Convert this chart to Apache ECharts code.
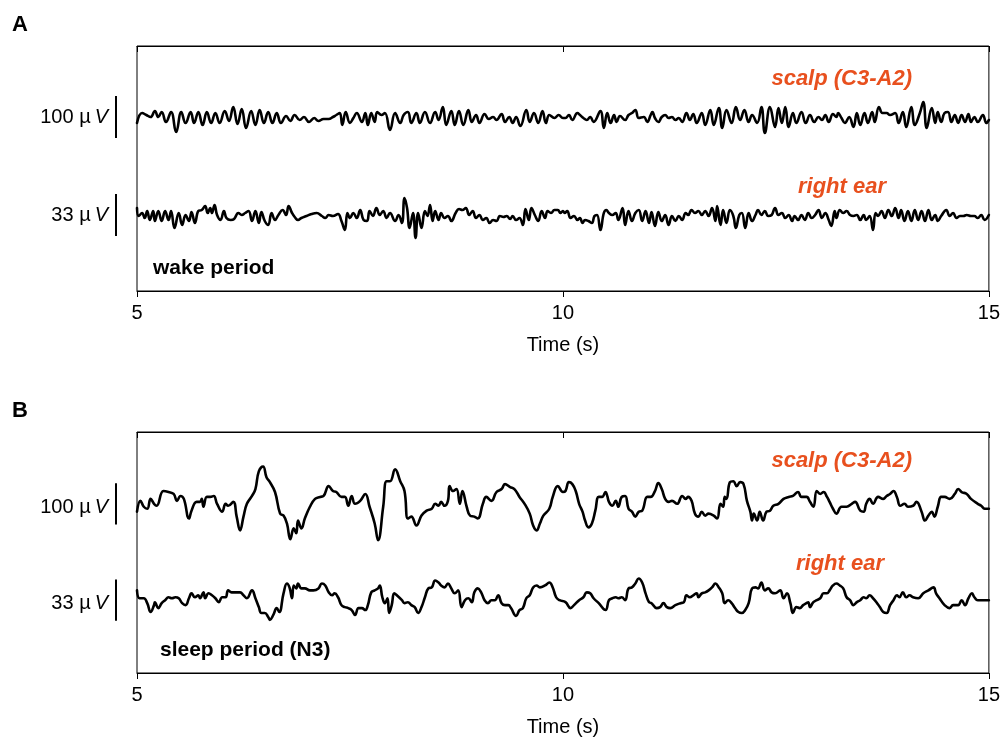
<!DOCTYPE html>
<html><head><meta charset="utf-8">
<script src="https://cdn.jsdelivr.net/npm/echarts@6/dist/echarts.min.js"></script>
<style>html,body{margin:0;padding:0;background:#fff}#c{width:1003px;height:738px}</style>
</head><body><div id="c"></div>
<script>
// ---------- DATA (time in s, deflection in display units; 42 units = scale bar) ----------
const timeTicks = [5, 10, 15];
const panelLetters = ['A', 'B'];
const channelNames = ['scalp (C3-A2)', 'right ear'];
const periodNames = ['wake period', 'sleep period (N3)'];
const scaleBarLabels = ['100 \u00b5', '33 \u00b5'];
const scaleBarUnits = [-21, 21];

const wakeScalp = [
[5.00,-6],[5.06,4],[5.11,2],[5.16,0],[5.21,6],[5.25,0],[5.29,5],[5.34,-5],[5.40,5],[5.46,-15],
[5.52,5],[5.57,-6],[5.63,5],[5.67,-6],[5.72,5],[5.77,-8],[5.82,5],[5.87,-6],[5.92,4],[5.97,-6],
[6.03,6],[6.08,-4],[6.13,10],[6.18,-7],[6.23,8],[6.28,-11],[6.34,6],[6.39,-8],[6.44,7],[6.49,-6],
[6.54,5],[6.59,-6],[6.64,4],[6.69,-6],[6.75,1],[6.80,-4],[6.85,2],[6.91,-3],[6.96,0],[7.02,-5],
[7.08,-1],[7.13,-4],[7.19,-2],[7.25,-2],[7.30,0],[7.34,2],[7.38,4],[7.41,-8],[7.45,5],[7.50,-6],
[7.54,-1],[7.58,4],[7.64,-5],[7.68,4],[7.71,-8],[7.75,4],[7.79,-5],[7.82,5],[7.87,2],[7.91,4],
[7.97,-13],[8.03,4],[8.09,-6],[8.13,2],[8.18,5],[8.22,-6],[8.28,4],[8.32,-6],[8.38,5],[8.44,-6],
[8.50,5],[8.54,-3],[8.59,10],[8.63,-8],[8.69,6],[8.73,-8],[8.78,6],[8.83,-8],[8.89,7],[8.93,-5],
[8.98,2],[9.02,-6],[9.08,3],[9.13,-2],[9.18,0],[9.22,-3],[9.28,3],[9.32,-5],[9.37,0],[9.41,-6],
[9.45,0],[9.50,-9],[9.57,7],[9.61,-5],[9.66,4],[9.71,-6],[9.76,6],[9.80,-6],[9.84,2],[9.90,-1],
[9.95,2],[10.00,-1],
[10.03,-1],[10.07,2],[10.11,-3],[10.17,4],[10.20,2],[10.24,-1],[10.28,-3],[10.32,0],[10.36,-5],[10.44,6],
[10.48,-11],[10.52,4],[10.56,-6],[10.60,2],[10.63,-5],[10.67,1],[10.73,-3],[10.77,2],[10.81,4],[10.85,7],
[10.89,-1],[10.95,0],[10.99,-5],[11.03,2],[11.05,5],[11.08,-1],[11.12,-5],[11.16,0],[11.20,2],[11.24,-1],
[11.28,0],[11.32,-3],[11.36,-1],[11.40,-5],[11.45,4],[11.49,-3],[11.53,3],[11.57,-6],[11.63,4],[11.67,-8],
[11.73,7],[11.77,-8],[11.83,9],[11.87,-11],[11.92,7],[11.98,-6],[12.03,10],[12.08,-3],[12.13,7],[12.18,-5],
[12.22,2],[12.28,-6],[12.33,10],[12.37,-16],[12.43,10],[12.49,-10],
[12.53,9],[12.57,-6],[12.61,10],[12.65,-10],[12.70,4],[12.74,-6],[12.80,5],[12.85,-6],[12.90,2],[12.95,-5],
[13.00,0],[13.04,-3],[13.08,2],[13.12,-5],[13.17,3],[13.21,0],[13.23,4],[13.27,-1],[13.31,-6],[13.36,0],
[13.41,-10],[13.45,4],[13.49,-8],[13.54,4],[13.58,-6],[13.63,5],[13.66,-5],[13.71,10],[13.75,4],[13.80,4],
[13.84,2],[13.90,4],[13.94,-6],[13.99,5],[14.03,-10],[14.09,10],[14.13,-8],[14.19,4],[14.23,15],[14.27,-11],
[14.33,9],[14.37,-6],[14.40,5],[14.44,-5],[14.48,4],[14.52,5],[14.56,-5],[14.60,2],[14.64,-6],[14.68,2],
[14.72,-5],[14.76,3],[14.79,-5],[14.83,0],[14.87,-5],[14.93,2],[14.97,-6],[15.00,-3]
];

const wakeEar = [
[5.00,7],[5.02,-1],[5.06,2],[5.09,-3],[5.12,4],[5.15,-5],[5.19,4],[5.21,-6],[5.25,4],[5.29,-6],
[5.33,4],[5.37,-5],[5.40,4],[5.44,-13],[5.49,2],[5.53,-10],[5.57,0],[5.61,-6],[5.64,3],[5.68,-8],
[5.72,4],[5.76,5],[5.80,9],[5.83,2],[5.86,7],[5.88,2],[5.91,10],[5.94,0],[5.98,-5],[6.02,4],
[6.05,-3],[6.10,-5],[6.14,-4],[6.19,2],[6.23,0],[6.27,2],[6.31,4],[6.35,-6],[6.39,4],[6.43,-8],
[6.46,3],[6.50,-6],[6.54,-10],[6.58,2],[6.62,-5],[6.66,0],[6.71,5],[6.75,0],[6.78,9],[6.82,2],
[6.86,-3],[6.89,-5],[6.93,-3],[6.99,-1],[7.05,1],[7.11,2],[7.17,-1],[7.21,-3],[7.25,0],[7.30,-1],
[7.36,1],[7.40,-6],[7.44,-15],[7.47,2],[7.50,-3],
[7.54,2],[7.58,-3],[7.62,5],[7.66,-5],[7.70,-6],[7.73,4],[7.77,-1],[7.81,7],[7.85,0],[7.89,4],
[7.93,-3],[7.97,2],[8.03,-6],[8.07,0],[8.11,-8],[8.14,17],[8.17,7],[8.20,-13],[8.24,2],[8.27,-23],
[8.30,2],[8.34,-13],[8.38,4],[8.41,-1],[8.44,10],[8.47,-6],[8.50,4],[8.54,-5],[8.57,2],[8.61,-3],
[8.65,-1],[8.69,-6],[8.74,2],[8.78,6],[8.82,5],[8.86,7],[8.90,0],[8.94,4],[8.98,-3],[9.02,0],
[9.06,-5],[9.10,-3],[9.14,-8],[9.18,-5],[9.22,-6],[9.26,-1],[9.30,-2],[9.34,-1],[9.38,-4],[9.41,-1],
[9.45,-5],[9.49,-3],[9.53,-10],[9.56,6],[9.60,-5],[9.63,7],[9.67,0],[9.71,-6],[9.75,4],[9.79,-3],
[9.82,4],[9.86,2],[9.90,5],[9.94,5],[9.97,2],[10.00,4],
[10.02,2],[10.05,4],[10.09,-3],[10.13,-1],[10.17,-5],[10.20,-3],[10.23,-8],[10.26,-5],[10.30,-6],[10.34,-8],
[10.37,-1],[10.40,0],[10.44,-15],[10.48,2],[10.51,5],[10.54,2],[10.58,0],[10.62,2],[10.65,-5],[10.70,7],
[10.73,-10],[10.77,4],[10.81,-6],[10.85,2],[10.89,5],[10.93,-6],[10.97,4],[11.01,-8],[11.04,3],[11.08,-11],
[11.12,3],[11.16,-6],[11.20,0],[11.24,-10],[11.28,-1],[11.32,-6],[11.36,-1],[11.40,-5],[11.44,2],[11.47,0],
[11.51,5],[11.55,2],[11.59,4],[11.63,0],[11.67,4],[11.71,-1],[11.75,7],[11.79,-6],[11.81,9],[11.85,-10],
[11.88,5],[11.92,-8],[11.96,5],[12.00,-1],[12.03,-13],[12.07,0],[12.10,2],[12.14,-13],[12.18,2],[12.22,-6],
[12.26,0],[12.29,5],[12.33,0],[12.37,4],[12.41,-1],[12.45,0],[12.49,7],
[12.53,0],[12.57,2],[12.61,-3],[12.65,0],[12.69,-6],[12.72,-1],[12.76,-5],[12.80,0],[12.84,-5],[12.88,2],
[12.92,-3],[12.96,0],[13.00,5],[13.04,-3],[13.08,2],[13.12,-5],[13.15,-11],[13.19,4],[13.21,-3],[13.25,5],
[13.29,2],[13.33,4],[13.37,0],[13.41,-1],[13.45,0],[13.49,-5],[13.53,0],[13.56,-5],[13.60,-1],[13.64,-15],
[13.67,2],[13.70,-1],[13.74,4],[13.78,-3],[13.82,5],[13.86,-1],[13.90,7],[13.94,-3],[13.97,5],[14.01,-6],
[14.05,4],[14.09,-6],[14.13,5],[14.17,-5],[14.21,4],[14.25,-6],[14.29,5],[14.33,-5],[14.37,0],[14.40,-6],
[14.44,-1],[14.50,5],[14.54,-1],[14.58,2],[14.62,-3],[14.66,-1],[14.70,-1],[14.74,0],[14.79,-1],[14.83,-1],
[14.87,-3],[14.91,0],[14.95,-5],[15.00,0]
];

const sleepScalp = [
[5.00,-8],[5.04,3],[5.08,-3],[5.12,-5],[5.16,5],[5.20,0],[5.23,-2],[5.31,13],[5.37,12],[5.43,10],
[5.47,3],[5.51,8],[5.55,5],[5.61,-15],[5.64,-7],[5.70,2],[5.74,2],[5.76,5],[5.78,-3],[5.82,7],
[5.86,7],[5.90,8],[5.94,0],[6.00,-8],[6.04,0],[6.07,-2],[6.13,2],[6.17,-13],[6.21,-27],[6.25,-13],
[6.29,0],[6.35,8],[6.39,15],[6.43,33],[6.48,38],[6.52,27],[6.56,22],[6.62,12],[6.68,-10],[6.72,-12],
[6.76,-20],[6.80,-36],[6.84,-25],[6.87,-30],[6.89,-17],[6.93,-25],[6.97,-15],[7.03,-3],[7.09,5],[7.15,7],
[7.19,8],[7.25,18],[7.30,13],[7.34,12],[7.40,7],[7.44,7],[7.48,-2],[7.52,8],[7.56,0],[7.62,3],
[7.68,10],[7.73,-3],[7.79,-20],[7.83,-37],[7.89,-3],[7.93,23],[7.97,23],[8.03,35],[8.09,23],[8.14,13],
[8.18,-15],[8.22,-13],[8.28,-22],[8.34,-12],[8.40,-7],[8.46,-5],[8.50,0],[8.54,-2],[8.57,2],[8.61,-2],
[8.65,3],[8.67,18],[8.71,13],[8.75,15],[8.79,0],[8.82,13],[8.87,-3],[8.91,-12],[8.96,-13],[9.00,-15],
[9.06,0],[9.10,7],[9.16,3],[9.22,12],[9.28,15],[9.32,20],[9.38,17],[9.43,15],[9.49,7],[9.55,0],
[9.61,-10],[9.65,-22],[9.69,-27],[9.73,-20],[9.77,-12],[9.84,-5],[9.88,7],[9.94,18],[10.00,12],
[10.03,13],[10.07,22],[10.11,20],[10.15,13],[10.19,0],[10.23,-8],[10.26,-17],[10.30,-24],[10.34,-20],[10.38,-7],
[10.42,7],[10.46,7],[10.50,12],[10.52,8],[10.54,2],[10.58,-2],[10.62,3],[10.65,-3],[10.69,7],[10.73,8],
[10.77,-5],[10.81,-8],[10.85,-13],[10.89,-8],[10.93,-7],[10.99,7],[11.03,7],[11.08,13],[11.12,21],[11.16,15],
[11.20,5],[11.24,2],[11.28,3],[11.34,0],[11.40,8],[11.44,5],[11.47,7],[11.51,3],[11.55,-10],[11.59,-13],
[11.63,-8],[11.67,-12],[11.71,-10],[11.77,-12],[11.81,-15],[11.85,0],[11.88,-3],[11.90,7],[11.92,5],[11.96,22],
[12.00,23],[12.04,18],[12.08,22],[12.12,20],[12.16,3],[12.20,-8],[12.22,-17],[12.24,-10],[12.28,-17],[12.31,-8],
[12.35,-17],[12.39,-8],[12.43,-7],[12.47,-2],[12.53,0],[12.59,5],[12.65,7],[12.70,8],[12.76,12],[12.80,7],
[12.86,7],[12.90,2],[12.94,-3],[12.98,13],[13.02,10],[13.06,12],[13.10,7],[13.13,2],[13.17,-5],[13.21,-10],
[13.27,-3],[13.33,-3],[13.39,0],[13.43,2],[13.49,-7],[13.53,-8],[13.56,0],[13.60,5],[13.64,0],[13.70,7],
[13.76,5],[13.80,8],[13.84,10],[13.88,13],[13.92,7],[13.96,-2],[14.01,0],[14.05,-3],[14.11,-2],[14.15,2],
[14.21,-8],[14.25,-17],[14.29,-12],[14.33,-8],[14.36,-13],[14.40,-3],[14.44,7],[14.48,7],[14.54,5],[14.60,10],
[14.64,15],[14.68,12],[14.74,10],[14.79,5],[14.87,0],[14.91,-2],[14.95,-5],[15.00,-5]
];

const sleepEar = [
[5.00,10],[5.03,2],[5.08,2],[5.12,-3],[5.16,-12],[5.20,-5],[5.21,-2],[5.25,-8],[5.29,-3],[5.33,0],
[5.37,3],[5.41,2],[5.45,3],[5.49,2],[5.53,-3],[5.57,-5],[5.61,2],[5.64,7],[5.68,3],[5.72,5],
[5.74,2],[5.78,8],[5.80,2],[5.84,7],[5.88,5],[5.92,2],[5.96,-2],[6.00,3],[6.04,3],[6.07,10],
[6.11,8],[6.15,8],[6.21,8],[6.25,5],[6.29,2],[6.35,10],[6.39,2],[6.43,-7],[6.46,-13],[6.50,-13],
[6.54,-17],[6.56,-20],[6.60,-15],[6.64,-8],[6.67,-12],[6.72,7],[6.76,17],[6.79,13],[6.82,2],[6.84,15],
[6.87,12],[6.89,17],[6.93,12],[6.97,12],[7.03,10],[7.07,10],[7.13,12],[7.17,17],[7.21,15],[7.25,8],
[7.29,5],[7.32,7],[7.36,3],[7.40,-5],[7.44,-7],[7.48,-8],[7.52,-10],[7.56,-15],[7.60,-8],[7.64,-8],
[7.68,-10],[7.71,-5],[7.75,8],[7.79,10],[7.83,12],[7.85,15],[7.88,3],[7.91,-3],[7.94,2],[7.96,-13],
[7.99,-5],[8.02,7],[8.05,5],[8.11,0],[8.14,-3],[8.18,-2],[8.22,-5],[8.26,-7],[8.30,-13],[8.34,-7],
[8.38,3],[8.42,12],[8.46,13],[8.50,20],[8.54,18],[8.57,15],[8.61,13],[8.65,17],[8.69,12],[8.73,7],
[8.77,10],[8.81,-7],[8.85,0],[8.89,2],[8.93,-2],[8.96,8],[9.00,12],[9.04,8],[9.08,0],[9.12,-3],
[9.16,0],[9.20,0],[9.24,5],[9.28,-3],[9.32,-5],[9.36,-5],[9.39,-8],[9.45,-16],[9.49,-10],[9.53,-8],
[9.57,2],[9.61,5],[9.65,13],[9.69,15],[9.73,13],[9.79,15],[9.84,18],[9.88,13],[9.92,3],[9.96,0],
[10.03,-2],[10.09,-8],[10.13,-5],[10.19,0],[10.24,3],[10.28,8],[10.32,7],[10.36,2],[10.42,-3],[10.50,-10],
[10.54,0],[10.58,2],[10.62,3],[10.65,2],[10.69,3],[10.73,0],[10.77,12],[10.81,13],[10.85,17],[10.89,22],
[10.93,18],[10.97,7],[11.01,-2],[11.04,-3],[11.10,-8],[11.14,-7],[11.18,-3],[11.22,-7],[11.26,-8],[11.32,-5],
[11.38,-3],[11.42,-2],[11.45,5],[11.49,3],[11.53,5],[11.57,7],[11.59,3],[11.63,7],[11.67,8],[11.71,10],
[11.75,13],[11.79,17],[11.83,13],[11.87,7],[11.90,-3],[11.94,0],[11.98,-3],[12.02,-8],[12.06,-12],[12.10,-13],
[12.14,-10],[12.18,-3],[12.22,12],[12.26,13],[12.29,12],[12.33,18],[12.37,10],[12.41,12],[12.45,8],[12.49,7],
[12.55,10],[12.59,2],[12.63,7],[12.67,-3],[12.70,-13],[12.74,-7],[12.78,-8],[12.82,-5],[12.86,-3],[12.88,-2],
[12.90,-7],[12.94,-2],[12.98,0],[13.02,2],[13.06,7],[13.10,7],[13.13,10],[13.17,15],[13.21,17],[13.25,15],
[13.29,12],[13.33,3],[13.37,0],[13.41,-5],[13.45,-2],[13.49,0],[13.53,3],[13.56,2],[13.60,5],[13.64,2],
[13.68,-2],[13.72,-7],[13.76,-12],[13.80,-13],[13.84,-5],[13.88,0],[13.92,5],[13.95,3],[13.99,8],[14.03,3],
[14.07,5],[14.11,3],[14.17,2],[14.23,7],[14.29,10],[14.35,13],[14.38,7],[14.42,2],[14.48,-5],[14.54,-8],
[14.58,-5],[14.64,-5],[14.68,0],[14.72,-5],[14.76,2],[14.80,7],[14.83,3],[14.87,0],[14.93,0],[14.97,0],[15.00,0]
];

// ---------- LAYOUT / STYLE ----------
const FONT = '"Liberation Sans", Arial, Helvetica, sans-serif';
const ORANGE = '#E8501E';
const grids = [
  {left: 137, top: 46, width: 853, height: 245},
  {left: 137, top: 432, width: 853, height: 245}
];
// y ranges place each trace baseline inside its panel (units as data)
const yRanges = [[-174, 71], [-76, 169], [-172, 73], [-74, 171]];
const BAR_X = 116;

const chart = echarts.init(document.getElementById('c'), null, {renderer: 'canvas'});

const xAxes = [], yAxes = [];
grids.forEach((g, i) => {
  xAxes.push({
    gridIndex: i, type: 'value', position: 'bottom',
    min: timeTicks[0], max: timeTicks[timeTicks.length - 1], interval: timeTicks[1] - timeTicks[0],
    axisLine: {show: true, onZero: false, lineStyle: {color: '#000', width: 1}},
    axisTick: {show: true, inside: false, length: 6, lineStyle: {color: '#000', width: 1}},
    splitLine: {show: false},
    axisLabel: {color: '#000', fontSize: 20, fontFamily: FONT, margin: 12},
    name: 'Time (s)', nameLocation: 'middle', nameGap: 44,
    nameTextStyle: {color: '#000', fontSize: 20, fontFamily: FONT}
  });
  xAxes.push({
    gridIndex: i, type: 'value', position: 'top',
    min: timeTicks[0], max: timeTicks[timeTicks.length - 1], interval: timeTicks[1] - timeTicks[0],
    axisLine: {show: true, onZero: false, lineStyle: {color: '#000', width: 1}},
    axisTick: {show: true, inside: true, length: 6, lineStyle: {color: '#000', width: 1}},
    axisLabel: {show: false}, splitLine: {show: false}
  });
});
yRanges.forEach((r, j) => {
  yAxes.push({gridIndex: Math.floor(j / 2), type: 'value', min: r[0], max: r[1], show: false,
    axisLine: {onZero: false}});
});

const traces = [wakeScalp, wakeEar, sleepScalp, sleepEar];
const series = traces.map((d, j) => ({
  type: 'line', xAxisIndex: Math.floor(j / 2) * 2, yAxisIndex: j,
  data: d, showSymbol: false, symbol: 'none', smooth: 0.45,
  lineStyle: {color: '#000', width: 2.6, join: 'round', cap: 'round'}, silent: true, animation: false
}));

const graphics = [];
const labelY = [[117, 215], [507, 603]];
const chanY = [[79, 187], [461, 564]];
const chanX = [[912, 886], [912, 884]];
const periodPos = [[153, 268], [160, 650]];
const letterY = [25, 411];
[0, 1].forEach(p => {
  graphics.push({type: 'text', x: 12, y: letterY[p], style: {text: panelLetters[p], font: 'bold 22px ' + FONT, fill: '#000', verticalAlign: 'middle'}});
  [0, 1].forEach(c => {
    graphics.push({type: 'text', x: 108, y: labelY[p][c], style: {
      text: scaleBarLabels[c] + '{v|V}', fontSize: 20, fontFamily: FONT, fill: '#000',
      align: 'right', verticalAlign: 'middle',
      rich: {v: {fontStyle: 'italic', fontSize: 20, fontFamily: FONT, fill: '#000', padding: [0, 0, 0, 4]}}
    }});
    graphics.push({type: 'text', x: chanX[p][c], y: chanY[p][c], style: {
      text: channelNames[c], font: 'italic bold 22px ' + FONT, fill: ORANGE,
      align: 'right', verticalAlign: 'middle'
    }});
  });
  graphics.push({type: 'text', x: periodPos[p][0], y: periodPos[p][1], style: {
    text: periodNames[p], font: 'bold 21px ' + FONT, fill: '#000', verticalAlign: 'middle'
  }});
});

chart.setOption({
  animation: false,
  backgroundColor: '#fff',
  grid: grids.map(g => Object.assign({show: true, borderColor: '#000', borderWidth: 1, backgroundColor: 'transparent'}, g)),
  xAxis: xAxes, yAxis: yAxes, series: series, graphic: graphics
});

// scale bars: length taken from each trace's own y scale (42 units)
const bars = [0, 1, 2, 3].map(j => {
  const y0 = chart.convertToPixel({yAxisIndex: j}, scaleBarUnits[0]);
  const y1 = chart.convertToPixel({yAxisIndex: j}, scaleBarUnits[1]);
  return {type: 'line', shape: {x1: BAR_X, y1: y0, x2: BAR_X, y2: y1}, style: {stroke: '#000', lineWidth: 2}};
});
chart.setOption({graphic: graphics.concat(bars)});
</script>
</body></html>
